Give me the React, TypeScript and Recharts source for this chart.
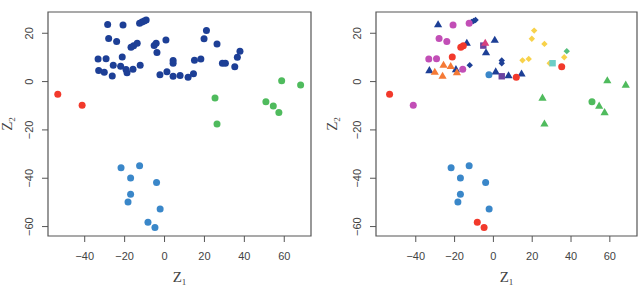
import { ScatterChart, Scatter, XAxis, YAxis, ReferenceArea } from "recharts";

// principal component scores, one entry per observation
const z1 = [
  -28.5, -20.8, -12.5, -11.3, -10.2, -9.2, -28, -24, -16.8, -15.5,
  -13.7, -5.2, -4.2, -3.8, 0.7, -33.3, -29.3, -21.2, -25.7, -22,
  -33, -30.2, -26.2, -19.3, -18.8, -15.8, -12.2, -2.3, 1.2, 4.3,
  4.3, 4.3, 7.8, 11.8, 14.5, 15, 18.2, 19.8, 21, 26.3,
  29, 30.5, 35.2, 36.5, 37.8,
  -53.5, -41.3,
  25.3, 26.3, 58.7, 68.2, 50.8, 54.5, 57.3,
  -21.8, -12.5, -17, -4, -17, -18.3, -2.2, -8.3, -4.8,
];
const z2 = [
  23.6, 23.4, 24.1, 24.7, 25.1, 25.5, 17.8, 16.6, 14.2, 14.8,
  15.9, 14.9, 15.9, 12, 17.2, 9.4, 9.5, 10.2, 6.8, 6.3,
  4.6, 3.9, 2.3, 5, 3.7, 5.1, 6.8, 2.8, 4.1, 2.2,
  8.7, 7.6, 2.5, 1.8, 3.2, 8.8, 9.4, 17.7, 21.1, 15.6,
  7.6, 7.6, 6.1, 10.1, 12.6,
  -5.2, -9.8,
  -6.8, -17.5, 0.4, -1.4, -8.3, -10.1, -12.8,
  -35.7, -34.8, -39.9, -41.8, -46.6, -49.8, -52.7, -58.2, -60.4,
];
// cluster found on the left panel
const cluster = [
  ...Array(45).fill("navy"),
  "red", "red",
  ...Array(7).fill("green"),
  ...Array(9).fill("sky"),
];
// known class shown on the right panel
const label = [
  "dbTri", "mag", "mag", "dbDia", "dbDia", "dbDia", "mag", "mag", "red", "red",
  "dbTri", "purSq", "crTri", "dbTri", "dbTri", "mag", "mag", "red", "orTri", "orTri",
  "dbTri", "orTri", "orTri", "dbTri", "orTri", "mag", "dbDia", "sky", "dbTri", "purSq",
  "dbDia", "dbDia", "dbTri", "red", "dbTri", "yel", "yel", "yel", "yel", "yel",
  "yel", "cySq", "red", "yel", "grDia",
  "red", "mag",
  "grTri", "grTri", "grTri", "grTri", "grCirc", "grTri", "grTri",
  "sky", "sky", "sky", "sky", "sky", "sky", "sky", "red", "red",
];
const xTicks = [-40, -20, 0, 20, 40, 60];
const yTicks = [-60, -40, -20, 0, 20];

const points = z1.map((v, i) => ({ z1: v, z2: z2[i], cluster: cluster[i], label: label[i] }));

type Style = { color: string; kind: string };

const clusterStyle: Record<string, Style> = {
  navy: { color: "#1D3F96", kind: "circle" },
  red: { color: "#F2392B", kind: "circle" },
  green: { color: "#4FBB5D", kind: "circle" },
  sky: { color: "#3A87C9", kind: "circle" },
};

const labelStyle: Record<string, Style> = {
  dbTri: { color: "#1D3F96", kind: "triangle" },
  dbDia: { color: "#1D3F96", kind: "diamond" },
  mag: { color: "#C24EB6", kind: "circle" },
  red: { color: "#F2392B", kind: "circle" },
  orTri: { color: "#F57A36", kind: "triangle" },
  purSq: { color: "#6A43A0", kind: "square" },
  crTri: { color: "#D8407E", kind: "triangle" },
  sky: { color: "#3A87C9", kind: "circle" },
  yel: { color: "#F8D24A", kind: "diamond" },
  cySq: { color: "#6DCDC6", kind: "square" },
  grDia: { color: "#55BF7C", kind: "diamond" },
  grTri: { color: "#4FBB5D", kind: "triangle" },
  grCirc: { color: "#4FBB5D", kind: "circle" },
};

const FONT = "'Liberation Sans', Arial, sans-serif";
const SERIF = "'Liberation Serif', 'DejaVu Serif', serif";
const INK = "#444";

const fmt = (v: number) => (v < 0 ? "\u2212" + Math.abs(v) : String(v));

function Marker({ cx, cy, style }: { cx: number; cy: number; style: Style }) {
  const c = style.color;
  if (style.kind === "triangle") {
    return <polygon points={`${cx},${cy - 4.4} ${cx - 4.1},${cy + 2.7} ${cx + 4.1},${cy + 2.7}`} fill={c} />;
  }
  if (style.kind === "diamond") {
    return <polygon points={`${cx},${cy - 3.2} ${cx + 3.2},${cy} ${cx},${cy + 3.2} ${cx - 3.2},${cy}`} fill={c} />;
  }
  if (style.kind === "square") {
    return <rect x={cx - 3.2} y={cy - 3.2} width={6.4} height={6.4} fill={c} />;
  }
  return <circle cx={cx} cy={cy} r={3.5} fill={c} />;
}

const XTick = ({ x, y, payload }: any) => (
  <text x={x} y={y} dy="0.71em" textAnchor="middle" fontSize={11} fill={INK} fontFamily={FONT}>
    {fmt(payload.value)}
  </text>
);

const YTick = ({ x, y, payload }: any) => (
  <text x={x} y={y} transform={`rotate(-90 ${x} ${y})`} textAnchor="middle" fontSize={11} fill={INK} fontFamily={FONT}>
    {fmt(payload.value)}
  </text>
);

type PanelProps = {
  width: number;
  yWidth: number;
  right: number;
  xDomain: [number, number];
  groupBy: "cluster" | "label";
  styles: Record<string, Style>;
  zLabelX: number;
};

const yDomain: [number, number] = [-63.9, 28.8];

function Panel({ width, yWidth, right, xDomain, groupBy, styles, zLabelX }: PanelProps) {
  const keys = Object.keys(styles);
  return (
    <ScatterChart width={width} height={288} margin={{ top: 12, right, bottom: 0, left: 0 }}>
      <XAxis
        type="number"
        dataKey="z1"
        domain={xDomain}
        ticks={xTicks}
        allowDataOverflow
        height={52}
        axisLine={false}
        tickSize={6}
        tickMargin={10}
        tickLine={{ stroke: "#555" }}
        tick={<XTick />}
        label={(p: any) => (
          <text
            x={p.viewBox.x + p.viewBox.width / 2}
            y={p.viewBox.y + 46}
            textAnchor="middle"
            fontFamily={SERIF}
            fontSize={15}
            fill={INK}
          >
            Z<tspan fontSize={9} dy={2.5}>1</tspan>
          </text>
        )}
      />
      <YAxis
        type="number"
        dataKey="z2"
        domain={yDomain}
        ticks={yTicks}
        allowDataOverflow
        width={yWidth}
        axisLine={false}
        tickSize={6}
        tickMargin={9}
        tickLine={{ stroke: "#555" }}
        tick={<YTick />}
        label={(p: any) => {
          const cx = p.viewBox.x + zLabelX;
          const cy = p.viewBox.y + p.viewBox.height / 2;
          return (
            <text
              x={cx}
              y={cy}
              transform={`rotate(-90 ${cx} ${cy})`}
              textAnchor="middle"
              fontFamily={SERIF}
              fontSize={15}
              fill={INK}
            >
              Z<tspan fontSize={9} dy={2.5}>2</tspan>
            </text>
          );
        }}
      />
      <ReferenceArea
        x1={xDomain[0]}
        x2={xDomain[1]}
        y1={yDomain[0]}
        y2={yDomain[1]}
        fill="none"
        stroke="#555"
        strokeWidth={1.2}
        ifOverflow="visible"
      />
      {keys.map((k) => (
        <Scatter
          key={k}
          data={points.filter((p) => p[groupBy] === k)}
          isAnimationActive={false}
          shape={(props: any) => <Marker cx={props.cx} cy={props.cy} style={styles[k]} />}
        />
      ))}
    </ScatterChart>
  );
}

export default function App() {
  return (
    <div style={{ position: "absolute", left: 0, top: 0, width: 643, height: 288, display: "flex", background: "#fff" }}>
      <Panel width={322} yWidth={48} right={11} xDomain={[-58.4, 73.4]} groupBy="cluster" styles={clusterStyle} zLabelX={12} />
      <Panel width={321} yWidth={54} right={6} xDomain={[-60.5, 74]} groupBy="label" styles={labelStyle} zLabelX={15} />
    </div>
  );
}
